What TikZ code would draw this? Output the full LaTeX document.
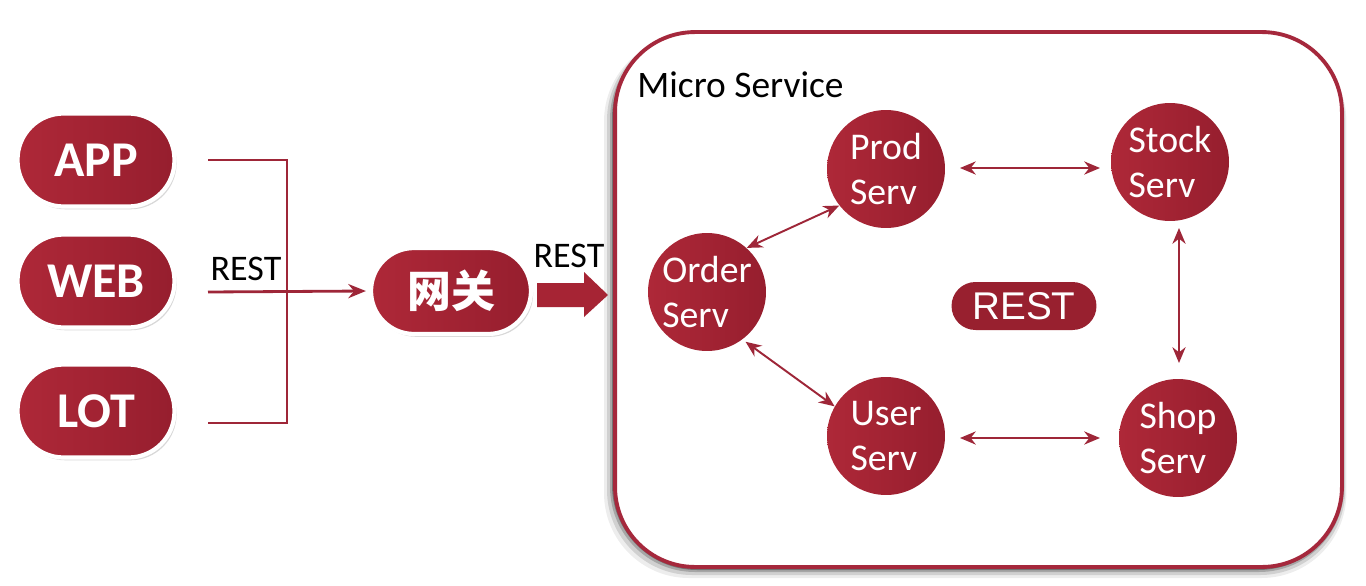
\documentclass[tikz,border=0pt]{standalone}
\usepackage{fontspec}
\setmainfont{Carlito}
\newfontfamily\cjk{Noto Sans CJK SC}
\newfontfamily\arialf{Liberation Sans}
\usetikzlibrary{arrows.meta,shadows,calc}
\definecolor{mred}{RGB}{166,36,52}
\definecolor{mredl}{RGB}{174,40,56}
\definecolor{mredd}{RGB}{150,30,46}
\definecolor{dred}{RGB}{152,32,47}
\definecolor{lred}{RGB}{158,38,56}
\definecolor{bred}{RGB}{165,40,60}
\begin{document}
\begin{tikzpicture}[x=0.02cm,y=-0.02cm,
  pill/.style={left color=mredl, right color=mredd, draw=white, line width=2.4pt, rounded corners=0.92cm,
    minimum width=3.14cm, minimum height=1.86cm, inner sep=0pt, text=white,
    font=\bfseries\fontsize{28.5}{32}\selectfont,
    drop shadow={shadow xshift=1.2pt, shadow yshift=-1.6pt, opacity=0.3}},
  serv/.style={circle, left color=mredl, right color=mredd, minimum size=2.36cm, inner sep=0pt, text=white,
    align=left, font=\fontsize{21.5}{25.5}\selectfont},
  conn/.style={draw=lred, line width=1.6pt},
  dbl/.style={draw=lred, line width=1.1pt,
    {Stealth[length=9pt,width=7.5pt]}-{Stealth[length=9pt,width=7.5pt]}},
  lbl/.style={text=black, font=\fontsize{20.5}{24}\selectfont, inner sep=0pt},
]
\useasboundingbox (0,0) rectangle (1366,585);
\fill[white] (0,0) rectangle (1366,585);

% big box shadow
\foreach \o/\op in {11/0.07,8/0.12,5/0.2,3/0.3}{
  \fill[black,opacity=\op,rounded corners=1.7cm] (615-\o,32+\o*0.4) rectangle (1342+\o*0.4,567+\o);
}
\node[draw=bred, fill=white, line width=2.2pt, rounded corners=1.6cm,
  minimum width=14.54cm, minimum height=10.7cm, inner sep=0pt] (ms) at (978.5,299.5) {};
\node[lbl, anchor=base west, font=\fontsize{21.3}{26}\selectfont] (mstitle) at (637,97) {Micro Service};

% clients
\node[pill] (app) at (96,160) {APP};
\node[pill] (web) at (96,281) {WEB};
\node[pill] (lot) at (96,411) {LOT};

\coordinate (a1) at (208,160);
\coordinate (a2) at (287,160);
\coordinate (l1) at (208,423);
\coordinate (l2) at (287,423);
\coordinate (w1) at (208,292);
\draw[conn] (a1) -- (a2) -- (l2) -- (l1);
\node[lbl] (rest1) at (246,269) {REST};

% gateway
\node[pill, minimum width=3.2cm, minimum height=1.72cm, rounded corners=0.86cm,
  font=\cjk\bfseries\fontsize{25}{30}\selectfont] (gw) at (451,291) {网关};
\draw[conn, -{Stealth[length=10pt,width=8pt]}] (w1) -- ($(gw.west)+(-3,0)$);

% block arrow
\coordinate (b0) at (537,295);
\coordinate (b1) at (608,295);
\fill[mred] (537,283) -- (584,283) -- (584,272) -- (b1) -- (584,317) -- (584,307) -- (537,307) -- cycle;
\node[lbl] (rest2) at (569,256) {REST};

% services
\node[serv] (order) at (707,292) {Order\\Serv};
\node[serv] (prod) at (886,169) {Prod\\Serv};
\node[serv] (user) at (886,436) {User\\Serv};
\node[serv] (stock) at (1170,162) {Stock\\Serv};
\node[serv] (shop) at (1178,438) {Shop\\Serv};

\node[fill=dred, rounded corners=0.48cm, minimum width=2.9cm, minimum height=0.96cm,
  inner sep=0pt, text=white, font=\arialf\fontsize{22}{26}\selectfont] (rest3) at (1024,306) {REST};

% connectors
\coordinate (ps1) at (960,168);
\coordinate (ps2) at (1100,168);
\draw[dbl] (ps1) -- (ps2);
\coordinate (us1) at (960,438);
\coordinate (us2) at (1100,438);
\draw[dbl] (us1) -- (us2);
\coordinate (ss1) at (1179,228);
\coordinate (ss2) at (1179,363);
\draw[dbl] (ss1) -- (ss2);
\draw[dbl] (order.48) -- (prod.218);
\draw[dbl] ($(order.-52)+(2,3)$) -- (user.150);
\end{tikzpicture}
\end{document}
